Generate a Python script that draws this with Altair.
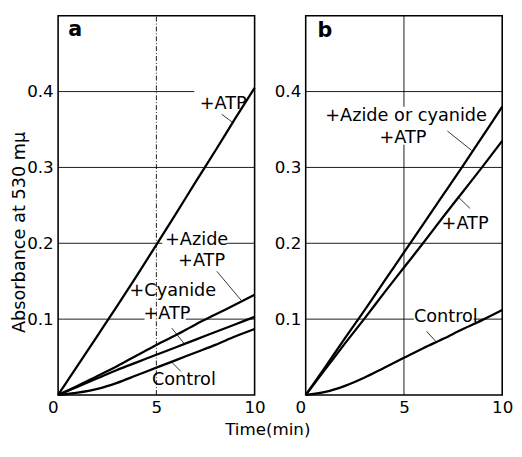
import altair as alt
import pandas as pd

FONT = "DejaVu Sans"

# ---------------- data ----------------
time_min = [0, 1, 2, 3, 4, 5, 6, 7, 8, 9, 10]

# panel a
a_atp = [0, 0.039, 0.078, 0.117, 0.157, 0.198, 0.239, 0.281, 0.322, 0.364, 0.405]
a_azide_atp = [0, 0.012, 0.025, 0.038, 0.052, 0.066, 0.079, 0.093, 0.106, 0.119, 0.132]
a_cyanide_atp = [0, 0.011, 0.022, 0.033, 0.043, 0.053, 0.063, 0.073, 0.083, 0.093, 0.103]
a_control = [0, 0.003, 0.008, 0.016, 0.026, 0.036, 0.046, 0.056, 0.066, 0.077, 0.087]

# panel b
b_azide_cyanide_atp = [0, 0.037, 0.075, 0.112, 0.150, 0.188, 0.226, 0.264, 0.302, 0.341, 0.380]
b_atp = [0, 0.034, 0.068, 0.101, 0.135, 0.168, 0.201, 0.235, 0.268, 0.301, 0.335]
b_control = [0, 0.004, 0.012, 0.023, 0.036, 0.049, 0.062, 0.074, 0.087, 0.099, 0.112]

# curve labels: text, x, y
a_label_text = ["+ATP", "+Azide", "+ATP", "+Cyanide", "+ATP", "Control"]
a_label_x = [8.4, 7.05, 7.3, 5.84, 5.54, 6.4]
a_label_y = [0.384, 0.204, 0.177, 0.137, 0.106, 0.020]

b_label_text = ["+Azide or cyanide", "+ATP", "+ATP", "Control"]
b_label_x = [5.11, 4.95, 8.11, 7.13]
b_label_y = [0.368, 0.339, 0.225, 0.1025]

# leader lines: x, y, x2, y2
a_leader_x = [8.33, 8.08, 5.79, 6.25]
a_leader_y = [0.370, 0.163, 0.088, 0.031]
a_leader_x2 = [8.90, 9.31, 6.44, 5.75]
a_leader_y2 = [0.359, 0.125, 0.067, 0.044]

b_leader_x = [7.21, 7.80, 6.15]
b_leader_y = [0.348, 0.260, 0.084]
b_leader_x2 = [8.44, 8.36, 6.64]
b_leader_y2 = [0.3225, 0.246, 0.070]

# horizontal grid segments: y, from x, to x
a_hgrid_y = [0.4, 0.3, 0.2, 0.2, 0.1, 0.1]
a_hgrid_x = [0, 0, 0, 8.6, 0, 6.5]
a_hgrid_x2 = [6.93, 10, 5.3, 10, 4.4, 10]

b_hgrid_y = [0.4, 0.3, 0.2, 0.1, 0.1]
b_hgrid_x = [0, 0, 0, 0, 8.55]
b_hgrid_x2 = [10, 10, 10, 5.5, 10]

# vertical grid segments at t = 5: from y, to y
a_vgrid_y = [0]
a_vgrid_y2 = [0.5]
b_vgrid_y = [0, 0.38]
b_vgrid_y2 = [0.33, 0.5]

panel_letters = ["a", "b"]
letter_x = [0.87, 0.98]
letter_y = [0.481, 0.48]

x_ticks = [0, 5, 10]
y_ticks = [0.1, 0.2, 0.3, 0.4]


# ---------------- helpers ----------------
def xenc(field="x"):
    return alt.X(
        f"{field}:Q",
        scale=alt.Scale(domain=[0, 10], nice=False),
        axis=alt.Axis(
            values=x_ticks, grid=False, ticks=False, domain=False, title=None,
            labelFontSize=17, labelFont=FONT, labelColor="black", labelPadding=5,
            labelFlush=False,
            labelAlign={"condition": {"test": "datum.value == 0", "value": "right"}, "value": "center"},
        ),
    )


def yenc(field, title):
    kw = dict(
        values=y_ticks, format=".1f", grid=False, ticks=False, domain=False,
        labelFontSize=17, labelFont=FONT, labelColor="black", labelPadding=5,
        labelFlush=False,
    )
    if title:
        kw.update(title=title, titleFontSize=18, titleFont=FONT, titleFontWeight="normal",
                  titleColor="black", titleX=-30, titleY=220)
    else:
        kw.update(title=None)
    return alt.Y(f"{field}:Q", scale=alt.Scale(domain=[0, 0.5], nice=False), axis=alt.Axis(**kw))


def panel(curves, ltext, lx, ly, ldx, ldy, ldx2, ldy2, gy, gx, gx2, vy, vy2, vdash, idx, ytitle):
    rows = []
    for name, vals in curves:
        for t, v in zip(time_min, vals):
            rows.append({"series": name, "x": t, "y": v})
    cdf = pd.DataFrame(rows)

    hg = pd.DataFrame({"x": gx, "x2": gx2, "y": gy})
    vg = pd.DataFrame({"x": [5] * len(vy), "y": vy, "y2": vy2})
    ld = pd.DataFrame({"x": ldx, "y": ldy, "x2": ldx2, "y2": ldy2})
    lb = pd.DataFrame({"x": lx, "y": ly, "text": ltext})
    lt = pd.DataFrame({"x": [letter_x[idx]], "y": [letter_y[idx]], "text": [panel_letters[idx]]})

    hgrid = alt.Chart(hg).mark_rule(color="black", strokeWidth=0.9).encode(
        x=xenc(), x2="x2:Q", y=yenc("y", ytitle))
    vmark = alt.Chart(vg).mark_rule(color="black", strokeWidth=0.9,
                                    **({"strokeDash": [5, 2, 1, 2]} if vdash else {}))
    vgrid = vmark.encode(x=xenc(), y=yenc("y", ytitle), y2="y2:Q")
    lines = alt.Chart(cdf).mark_line(color="black", strokeWidth=2.3, interpolate="monotone").encode(
        x=xenc(), y=yenc("y", ytitle), detail="series:N")
    leaders = alt.Chart(ld).mark_rule(color="black", strokeWidth=0.8).encode(
        x=xenc(), y=yenc("y", ytitle), x2="x2:Q", y2="y2:Q")
    labels = alt.Chart(lb).mark_text(font=FONT, fontSize=18, color="black", align="center",
                                     baseline="middle").encode(
        x=xenc(), y=yenc("y", ytitle), text="text:N")
    letter = alt.Chart(lt).mark_text(font=FONT, fontSize=21, fontWeight="bold", color="black",
                                     align="center", baseline="middle").encode(
        x=xenc(), y=yenc("y", ytitle), text="text:N")

    return alt.layer(hgrid, vgrid, lines, leaders, labels, letter).properties(width=200, height=386)


pa = panel(
    [("a_atp", a_atp), ("a_azide", a_azide_atp), ("a_cyanide", a_cyanide_atp), ("a_control", a_control)],
    a_label_text, a_label_x, a_label_y,
    a_leader_x, a_leader_y, a_leader_x2, a_leader_y2,
    a_hgrid_y, a_hgrid_x, a_hgrid_x2, a_vgrid_y, a_vgrid_y2, True, 0,
    "Absorbance at 530 mμ",
)
pb = panel(
    [("b_azcy", b_azide_cyanide_atp), ("b_atp", b_atp), ("b_control", b_control)],
    b_label_text, b_label_x, b_label_y,
    b_leader_x, b_leader_y, b_leader_x2, b_leader_y2,
    b_hgrid_y, b_hgrid_x, b_hgrid_x2, b_vgrid_y, b_vgrid_y2, False, 1,
    None,
)

chart = alt.hconcat(pa, pb, spacing=7).properties(
    title=alt.TitleParams("Time(min)", orient="bottom", anchor="middle", font=FONT,
                          fontSize=17, fontWeight="normal", color="black", offset=6, dx=6),
    padding={"left": 2, "top": 2, "right": 0, "bottom": 0},
    background="white",
).configure_view(stroke="black", strokeWidth=1.6)

chart.save("out.html", embed_options={"renderer": "svg", "actions": False})
